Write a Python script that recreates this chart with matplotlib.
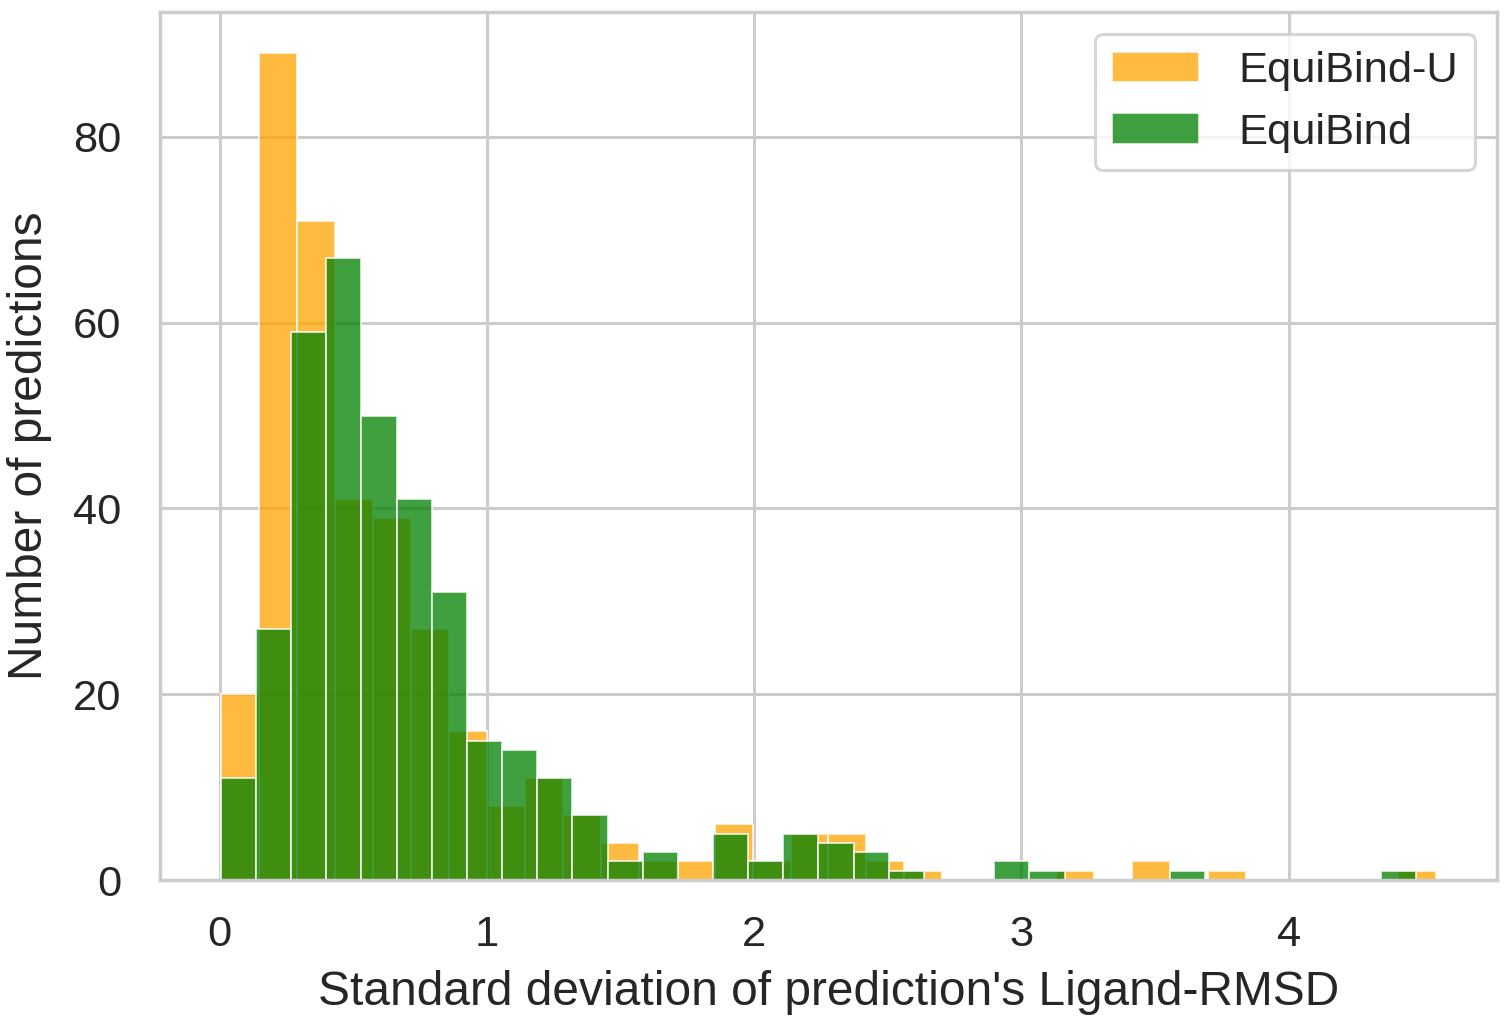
import numpy as np
import matplotlib
matplotlib.use("Agg")
import matplotlib.pyplot as plt
import seaborn as sns

# histogram counts (363 predictions per model)
equibind_u_counts = [20, 89, 71, 41, 39, 27, 16, 8, 11, 7, 4, 2, 2, 6, 2, 5,
                     5, 2, 1, 0, 0, 0, 1, 0, 2, 0, 1, 0, 0, 0, 0, 1]
equibind_counts = [11, 27, 59, 67, 50, 41, 31, 15, 14, 11, 7, 2, 3, 0, 5, 2, 5,
                   4, 3, 1, 0, 0, 2, 1, 0, 0, 0, 1, 0, 0, 0, 0, 0, 1]
equibind_u_range = (0.004, 4.552)
equibind_range = (0.004, 4.477)
labels = ["EquiBind-U", "EquiBind"]

sns.set_theme(style="whitegrid")
plt.rcParams['font.family'] = ['Liberation Sans', 'DejaVu Sans']
plt.rcParams['text.color'] = '0.15'
plt.rcParams['axes.labelcolor'] = '0.15'
plt.rcParams['xtick.color'] = '0.15'
plt.rcParams['ytick.color'] = '0.15'

fig = plt.figure(figsize=(15.11, 10.24), dpi=100)
ax = fig.add_axes([0.1059, 0.1406, 0.8848, 0.8477])

edges_u = np.linspace(*equibind_u_range, len(equibind_u_counts) + 1)
edges_e = np.linspace(*equibind_range, len(equibind_counts) + 1)

ax.hist(edges_u[:-1], bins=edges_u, weights=equibind_u_counts, color="orange",
        alpha=0.75, edgecolor="white", linewidth=1.4, label=labels[0])
ax.hist(edges_e[:-1], bins=edges_e, weights=equibind_counts, color="green",
        alpha=0.75, edgecolor="white", linewidth=1.4, label=labels[1])

ax.set_xlabel("Standard deviation of prediction's Ligand-RMSD", fontsize=34.5, labelpad=11)
ax.set_ylabel("Number of predictions", fontsize=34.5, labelpad=15)
ax.set_xticks([0, 1, 2, 3, 4])
ax.set_yticks([0, 20, 40, 60, 80])
ax.tick_params(axis='both', labelsize=31.3, length=0)
ax.tick_params(axis='x', pad=25)
ax.tick_params(axis='y', pad=28)
ax.grid(True, color='0.8', linewidth=2.2)
for s in ax.spines.values():
    s.set_color('0.8')
    s.set_linewidth(2.5)

leg = ax.legend(loc="upper right", fontsize=31.3, frameon=True, borderpad=0.4,
                handletextpad=0.9, borderaxespad=0.5)
leg.get_frame().set_edgecolor('0.8')
leg.get_frame().set_linewidth(2.2)

fig.savefig("out.png", dpi=100)
